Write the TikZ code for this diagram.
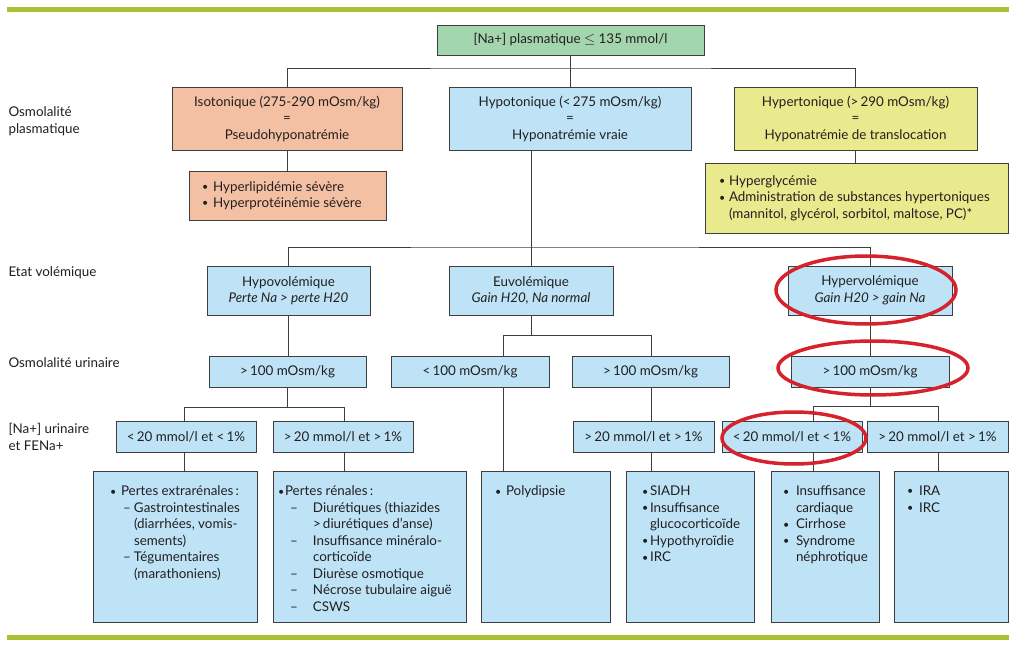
\documentclass[tikz,border=0pt]{standalone}
\usepackage{fontspec}
\setmainfont{Lato}
\usepackage{tikz}
\usetikzlibrary{calc}
\definecolor{barolive}{RGB}{170,193,52}
\definecolor{boxgreen}{RGB}{163,213,174}
\definecolor{boxsalmon}{RGB}{244,192,164}
\definecolor{boxblue}{RGB}{190,227,247}
\definecolor{boxyellow}{RGB}{233,234,142}
\definecolor{boxline}{RGB}{62,62,62}
\definecolor{ringred}{RGB}{214,34,44}
\definecolor{inkgray}{RGB}{35,31,32}
\newcommand{\itm}[1][11pt]{\makebox[#1][l]{\raisebox{.1ex}{\scalebox{.8}{\textbullet}}}}
\newcommand{\subitm}[2]{\hspace*{#1}\makebox[#2][l]{--}}
\newcommand{\cont}[1]{\hspace*{#1}}
\newcommand{\topcell}[2]{\parbox[c][139pt][t]{#1}{\raggedright\hyphenpenalty=10000\exhyphenpenalty=10000\vspace*{9pt}#2}}
\tikzset{
  basebox/.style={draw=boxline, line width=0.8pt, inner sep=0pt, align=center,
    text=inkgray, font=\fontsize{13.4}{16.5}\selectfont},
  greenbox/.style={basebox, fill=boxgreen},
  salmonbox/.style={basebox, fill=boxsalmon},
  bluebox/.style={basebox, fill=boxblue},
  yellowbox/.style={basebox, fill=boxyellow},
  link/.style={draw=boxline, line width=0.8pt},
  rowlabel/.style={anchor=west, align=left, text=inkgray, font=\fontsize{13.4}{17}\selectfont},
  greenrule/.style={draw=barolive, line width=5pt},
  redring/.style={draw=ringred, line width=3.5pt}
}
\begin{document}
\begin{tikzpicture}[x=1pt,y=-1pt]
\fill[white] (0,0) rectangle (1015,647);
\useasboundingbox (0,0) rectangle (1015,647);
\draw[greenrule] (7,10) -- (1009,10);
\draw[greenrule] (7,637.5) -- (1009,637.5);
% row labels
\node[rowlabel] (lplasma) at (5,121) {Osmolalité\\plasmatique};
\node[rowlabel] (lvol) at (5,273) {Etat volémique};
\node[rowlabel] (lurin) at (5,363) {Osmolalité urinaire};
\node[rowlabel] (lna) at (5,436.5) {[Na+] urinaire\\et FENa+};
% plasma
\node[greenbox, minimum width=267, minimum height=30] (plasma) at (570.5,40) {[Na+] plasmatique $\leq$ 135 mmol/l};
\node[salmonbox, minimum width=230, minimum height=63] (iso) at (287,118.5) {Isotonique (275-290 mOsm/kg)\\=\\Pseudohyponatrémie};
\node[bluebox, minimum width=242, minimum height=63] (hypo) at (570,118.5) {Hypotonique (<\,275 mOsm/kg)\\=\\Hyponatrémie vraie};
\node[yellowbox, minimum width=243, minimum height=63] (hyper) at (855.5,118.5) {Hypertonique (>\,290 mOsm/kg)\\=\\Hyponatrémie de translocation};
\node[salmonbox, minimum width=197, minimum height=49] (isocause) at (287.5,195.5) {\parbox{171pt}{\itm Hyperlipidémie sévère\\\itm Hyperprotéinémie sévère}};
\node[yellowbox, minimum width=303, minimum height=70] (hypercause) at (856.5,198) {\parbox{275pt}{\itm[10pt]Hyperglycémie\\\itm[10pt]Administration de substances hypertoniques\\\cont{10pt}(mannitol, glycérol, sorbitol, maltose, PC)*}};
% volemie
\node[bluebox, minimum width=163, minimum height=49] (hypovol) at (288.5,290.5) {Hypovolémique\\\textit{Perte Na > perte H20}};
\node[bluebox, minimum width=164, minimum height=49] (euvol) at (531,290.5) {Euvolémique\\\textit{Gain H20, Na normal}};
\node[bluebox, minimum width=164, minimum height=49] (hypervol) at (870,290.5) {Hypervolémique\\\textit{Gain H20 > gain Na}};
% osmolalite urinaire
\node[bluebox, minimum width=157, minimum height=31] (uosm1) at (287.5,371.5) {>\,100 mOsm/kg};
\node[bluebox, minimum width=158, minimum height=31] (uosm2) at (470,371.5) {<\,100 mOsm/kg};
\node[bluebox, minimum width=157, minimum height=31] (uosm3) at (650.5,371.5) {>\,100 mOsm/kg};
\node[bluebox, minimum width=158, minimum height=31] (uosm4) at (870,371.5) {>\,100 mOsm/kg};
% Na urinaire
\node[bluebox, minimum width=140, minimum height=31] (una1) at (186,436.5) {<\,20 mmol/l et <\,1\%};
\node[bluebox, minimum width=140, minimum height=31] (una2) at (343,436.5) {>\,20 mmol/l et >\,1\%};
\node[bluebox, minimum width=141, minimum height=31] (una3) at (643.5,436.5) {>\,20 mmol/l et >\,1\%};
\node[bluebox, minimum width=140, minimum height=31] (una4) at (792,436.5) {<\,20 mmol/l et <\,1\%};
\node[bluebox, minimum width=141, minimum height=31] (una5) at (937.5,436.5) {>\,20 mmol/l et >\,1\%};
% causes
\node[bluebox, minimum width=164, minimum height=151] (cause1) at (175,546.5) {\topcell{130pt}{\itm Pertes extrarénales\,:\\\subitm{13pt}{11pt}Gastrointestinales\\\cont{24pt}(diarrhées, vomis-\\\cont{24pt}sements)\\\subitm{13pt}{11pt}Tégumentaires\\\cont{24pt}(marathoniens)}};
\node[bluebox, minimum width=193, minimum height=151] (cause2) at (369.5,546.5) {\topcell{183pt}{\itm[7pt]Pertes rénales\,:\\\subitm{12pt}{23pt}Diurétiques (thiazides\\\cont{35pt}>\,diurétiques d’anse)\\\subitm{12pt}{23pt}Insuffisance minéralo-\\\cont{35pt}corticoïde\\\subitm{12pt}{23pt}Diurèse osmotique\\\subitm{12pt}{23pt}Nécrose tubulaire aiguë\\\subitm{12pt}{23pt}CSWS}};
\node[bluebox, minimum width=129, minimum height=151] (cause3) at (545.5,546.5) {\topcell{101pt}{\itm Polydipsie}};
\node[bluebox, minimum width=128, minimum height=151] (cause4) at (690,546.5) {\topcell{96pt}{\itm[8pt]SIADH\\\itm[8pt]Insuffisance\\\cont{8pt}glucocorticoïde\\\itm[8pt]Hypothyroïdie\\\itm[8pt]IRC}};
\node[bluebox, minimum width=108, minimum height=151] (cause5) at (825,546.5) {\topcell{84pt}{\itm[13pt]Insuffisance\\\cont{13pt}cardiaque\\\itm[13pt]Cirrhose\\\itm[13pt]Syndrome\\\cont{13pt}néphrotique}};
\node[bluebox, minimum width=114, minimum height=151] (cause6) at (951,546.5) {\topcell{88pt}{\itm[12pt]IRA\\\itm[12pt]IRC}};
% connectors
\coordinate (busA) at (570,68);
\draw[link] (plasma.south) -- (plasma.south |- hypo.north);
\draw[link] (iso.north) |- (busA) -| (hyper.north);
\draw[link] (iso.south) -- (iso.south |- isocause.north);
\draw[link] (hyper.south) -- (hyper.south |- hypercause.north);
\coordinate (busB) at (531,247);
\draw[link] (hypo.south -| euvol.north) -- (euvol.north);
\draw[link] (hypovol.north) |- (busB) -| (hypervol.north);
\draw[link] (hypovol.south) -- (hypovol.south |- uosm1.north);
\draw[link] (hypervol.south) -- (hypervol.south |- uosm4.north);
\coordinate (busC) at (503,335);
\coordinate (busD) at (651,335);
\draw[link] (euvol.south) -- (euvol.south |- busC);
\draw[link] (busC |- uosm2.north) |- (busD) -- (busD |- uosm3.north);
\draw[link] (busC |- uosm2.south) -- (busC |- cause3.north);
\draw[link] (busD |- uosm3.south) -- (busD |- una3.north);
\draw[link] (busD |- una3.south) -- (busD |- cause4.north);
\coordinate (busE) at (184,407);
\coordinate (busF) at (344,407);
\draw[link] (uosm1.south) -- (uosm1.south |- busE);
\draw[link] (busE |- una1.north) |- (busF) -- (busF |- una2.north);
\draw[link] (busE |- una1.south) -- (busE |- cause1.north);
\draw[link] (busF |- una2.south) -- (busF |- cause2.north);
\coordinate (busG) at (813,406);
\coordinate (busH) at (938,406);
\draw[link] (uosm4.south) -- (uosm4.south |- busG);
\draw[link] (busG |- una4.north) |- (busH) -- (busH |- una5.north);
\draw[link] (busG |- una4.south) -- (busG |- cause5.north);
\draw[link] (busH |- una5.south) -- (busH |- cause6.north);
% red marks
\draw[redring] (866,290) ellipse [x radius=90pt, y radius=34pt];
\draw[redring] (873,368) ellipse [x radius=95pt, y radius=27pt];
\draw[redring] (794,438) ellipse [x radius=72pt, y radius=26pt];
\end{tikzpicture}
\end{document}
